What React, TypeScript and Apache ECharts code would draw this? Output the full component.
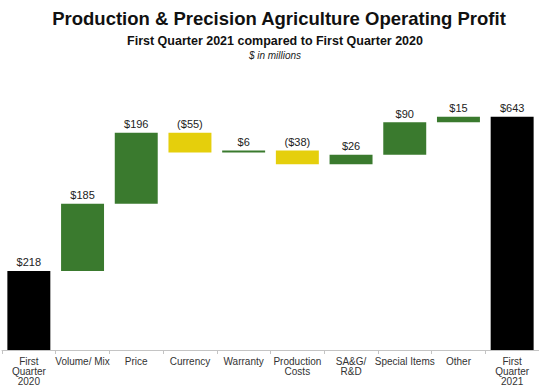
import React, { useEffect, useRef } from "react";
import * as echarts from "echarts";

const categories = [
  "First\nQuarter\n2020",
  "Volume/ Mix",
  "Price",
  "Currency",
  "Warranty",
  "Production\nCosts",
  "SA&G/\nR&D",
  "Special Items",
  "Other",
  "First\nQuarter\n2021",
];
const changes = [218, 185, 196, -55, 6, -38, 26, 90, 15, 643];
const isTotal = [true, false, false, false, false, false, false, false, false, true];

const GREEN = "#3a7a2e";
const YELLOW = "#e5cf0c";
const BLACK = "#000000";

export default function App() {
  const ref = useRef<HTMLDivElement>(null);
  useEffect(() => {
    if (!ref.current) return;
    const chart = echarts.init(ref.current, undefined, { renderer: "svg" });
    const base: number[] = [];
    const vals: any[] = [];
    let cum = 0;
    changes.forEach((v, i) => {
      if (isTotal[i]) {
        base.push(0);
        cum = v;
        vals.push({ value: v, itemStyle: { color: BLACK } });
      } else {
        const next = cum + v;
        base.push(Math.min(cum, next));
        vals.push({ value: Math.abs(v), itemStyle: { color: v >= 0 ? GREEN : YELLOW } });
        cum = next;
      }
    });
    const fmt = (v: number) => (v < 0 ? `($${Math.abs(v)})` : `$${v}`);
    const FF = "Liberation Sans, Arial, sans-serif";
    chart.setOption({
      animation: false,
      backgroundColor: "#ffffff",
      textStyle: { fontFamily: FF },
      title: [
        {
          text: "Production & Precision Agriculture Operating Profit",
          left: 274,
          textAlign: "center",
          top: 4,
          textStyle: { fontSize: 18.5, fontWeight: "bold", color: "#111", fontFamily: FF },
        },
        {
          text: "First Quarter 2021 compared to First Quarter 2020",
          left: 270,
          textAlign: "center",
          top: 29,
          textStyle: { fontSize: 12.5, fontWeight: "bold", color: "#111", fontFamily: FF },
        },
        {
          text: "$ in millions",
          left: 270,
          textAlign: "center",
          top: 45,
          textStyle: { fontSize: 10, fontStyle: "italic", fontWeight: "normal", color: "#222", fontFamily: FF },
        },
      ],
      grid: { left: 2, right: 0, top: 96, bottom: 36, containLabel: false },
      xAxis: {
        type: "category",
        data: categories,
        axisLine: { lineStyle: { color: "#c4c4c4" } },
        axisTick: { show: true, length: 4, lineStyle: { color: "#c4c4c4" } },
        axisLabel: {
          color: "#333",
          fontSize: 10,
          lineHeight: 10,
          margin: 6,
          interval: 0,
        },
      },
      yAxis: { type: "value", min: 0, max: 700, show: false, splitLine: { show: false } },
      series: [
        {
          type: "bar",
          stack: "w",
          data: base,
          itemStyle: { color: "transparent" },
          barWidth: "80%",
          silent: true,
        },
        {
          type: "bar",
          stack: "w",
          data: vals,
          barWidth: "80%",
          label: {
            show: true,
            position: "top",
            distance: 3,
            color: "#222",
            fontSize: 11,
            formatter: (p: any) => fmt(changes[p.dataIndex]),
          },
        },
      ],
    });
    return () => chart.dispose();
  }, []);
  return (
    <div
      ref={ref}
      style={{ position: "fixed", left: 0, top: 0, width: 539, height: 386 }}
    />
  );
}
